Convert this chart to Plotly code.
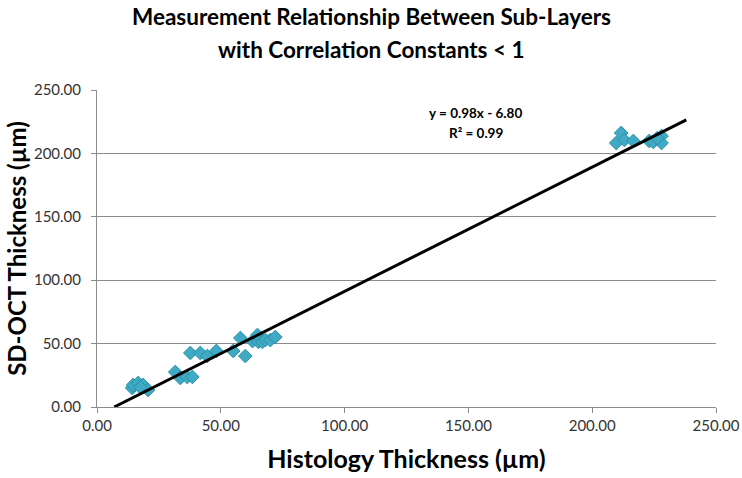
import plotly.graph_objects as go

# Data (Histology vs SD-OCT thickness, µm)
histology = [14.2, 14.6, 16.6, 18.6, 20.6, 17.5,
             31.6, 33.6, 36.4, 38.5,
             37.7, 41.7, 44.5, 48.2, 55.0, 57.9, 59.9, 62.8, 65.2,
             64.8, 66.8, 68.0, 70.0, 72.0,
             211.7, 209.7, 213.0, 216.6, 223.0, 224.7, 228.0, 228.0, 226.3]
sdoct = [15.0, 17.4, 18.9, 17.4, 13.4, 15.5,
         27.6, 22.9, 23.7, 23.7,
         42.6, 42.6, 40.2, 44.2, 44.2, 54.4, 40.2, 52.0, 51.3,
         56.8, 51.3, 52.8, 52.8, 55.2,
         216.1, 208.2, 210.6, 209.8, 209.8, 209.0, 213.7, 208.2, 212.1]

slope = 0.98
intercept = -6.80
r_squared = 0.99
trend_x_end = 238.0

x_ticks = [0, 50, 100, 150, 200, 250]
y_ticks = [0, 50, 100, 150, 200, 250]

title_lines = ["Measurement Relationship Between Sub-Layers",
               "with Correlation Constants < 1"]
eq_lines = [f"y = {slope:.2f}x - {abs(intercept):.2f}", f"R² = {r_squared:.2f}"]

trend_x = [-intercept / slope, trend_x_end]
trend_y = [slope * v + intercept for v in trend_x]

font = "Lato, 'Open Sans', sans-serif"

fig = go.Figure()
fig.add_trace(go.Scatter(
    x=histology, y=sdoct, mode="markers",
    marker=dict(symbol="diamond", size=10.5, color="#3EAAC4",
                line=dict(color="#2B8FA8", width=1)),
    showlegend=False, hoverinfo="x+y"))
fig.add_trace(go.Scatter(
    x=trend_x, y=trend_y, mode="lines",
    line=dict(color="black", width=3), showlegend=False, hoverinfo="skip"))

# Trendline equation, one annotation per line
for txt, yv in zip(eq_lines, [231.5, 216.0]):
    fig.add_annotation(
        x=153, y=yv, xref="x", yref="y", showarrow=False,
        text=f"<b>{txt}</b>",
        font=dict(size=13.5, color="black", family=font))

# Chart title, centred on the page
for txt, yv in zip(title_lines, [1.232, 1.127]):
    fig.add_annotation(
        x=0.443, xref="paper", y=yv, yref="paper", xanchor="center",
        yanchor="middle", showarrow=False,
        text=f"<b>{txt}</b>",
        font=dict(size=22.5, color="black", family=font))

fig.update_layout(
    width=742, height=478,
    margin=dict(l=97, r=26, t=90, b=71),
    paper_bgcolor="white", plot_bgcolor="white",
    xaxis=dict(range=[0, 250], tickvals=x_ticks, tickformat=".2f",
               showgrid=False, zeroline=False, automargin=False,
               showline=True, linecolor="#8C8C8C", linewidth=1,
               ticks="outside", ticklen=5, tickcolor="#8C8C8C",
               tickfont=dict(size=15, color="#333333", family=font),
               title=dict(text="<b>Histology Thickness (µm)</b>", standoff=17,
                          font=dict(size=25, color="black", family=font))),
    yaxis=dict(range=[0, 250], tickvals=y_ticks, tickformat=".2f",
               showgrid=True, gridcolor="#8C8C8C", gridwidth=1, zeroline=False,
               automargin=False,
               showline=True, linecolor="#8C8C8C", linewidth=1,
               ticks="outside", ticklen=5, tickcolor="#8C8C8C",
               ticklabelstandoff=7,
               tickfont=dict(size=15, color="#333333", family=font),
               title=dict(text="<b>SD-OCT Thickness (µm)</b>", standoff=0,
                          font=dict(size=24, color="black", family=font))),
)

fig.write_html("out.html", config={"displayModeBar": False},
               post_script="document.body.style.margin='0';")
